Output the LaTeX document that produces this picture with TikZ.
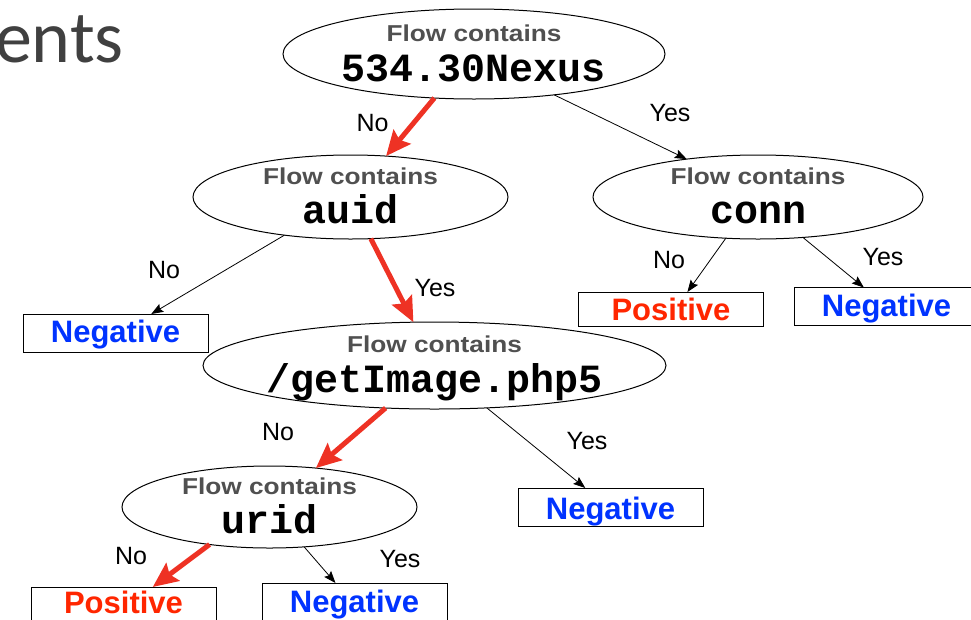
\documentclass[tikz,border=0pt]{standalone}
\usepackage{fontspec}
\setmainfont{Liberation Sans}
\newfontfamily\flowfont[FakeStretch=1.14]{Liberation Sans}
\newfontfamily\codefont{Liberation Mono}
\newfontfamily\titlefont{Carlito}
\usetikzlibrary{arrows.meta,shapes.geometric,calc}
\definecolor{arrowred}{RGB}{238,50,36}
\definecolor{posred}{RGB}{255,38,0}
\definecolor{negblue}{RGB}{0,51,255}
\definecolor{flowgray}{RGB}{80,80,80}
\definecolor{titlegray}{RGB}{64,64,64}
\tikzset{
  cond/.style={ellipse, draw, line width=1pt, inner sep=0pt, outer sep=0pt},
  flowtxt/.style={anchor=base, inner sep=0pt, text=flowgray,
    font=\flowfont\bfseries\fontsize{23}{27}\selectfont},
  codetxt/.style={anchor=base, inner sep=0pt, text=black,
    font=\codefont\bfseries\fontsize{40}{44}\selectfont},
  leaf/.style={draw, line width=1pt, inner sep=0pt, outer sep=0pt,
    minimum width=185pt, minimum height=38pt,
    font=\bfseries\fontsize{31}{35}\selectfont},
  posleaf/.style={leaf, text=posred},
  negleaf/.style={leaf, text=negblue},
  lab/.style={anchor=base, inner sep=0pt, font=\fontsize{25}{30}\selectfont},
  blk/.style={line width=0.8pt, -{Stealth[length=12pt,width=9pt,inset=2pt]}},
  redarr/.style={draw=arrowred, fill=arrowred, line width=5pt,
    -{Stealth[length=25pt,width=22pt,inset=4pt]}}
}
\begin{document}
\begin{tikzpicture}[x=1pt,y=-1pt]
\useasboundingbox (0,0) rectangle (971,619);

% title fragment
\node[anchor=base east, inner sep=0pt, text=titlegray,
  font=\titlefont\fontsize{74}{80}\selectfont] (title) at (124,62) {ents};

% decision ellipses
\node[cond, minimum width=382pt, minimum height=90pt] (e1) at (474,54) {};
\node[cond, minimum width=315pt, minimum height=84pt] (e2) at (350.5,197) {};
\node[cond, minimum width=330pt, minimum height=84pt] (e3) at (758,197) {};
\node[cond, minimum width=463pt, minimum height=87pt] (e4) at (434.5,365.5) {};
\node[cond, minimum width=295pt, minimum height=82pt] (e5) at (269.5,507) {};

\node[flowtxt] (e1a) at ($(e1)+(0,-12.5)$) {Flow contains};
\node[codetxt] (e1b) at ($(e1)+(0,27)$) {534.30Nexus};
\node[flowtxt] (e2a) at ($(e2)+(0,-13)$) {Flow contains};
\node[codetxt] (e2b) at ($(e2)+(0,26)$) {auid};
\node[flowtxt] (e3a) at ($(e3)+(0,-13)$) {Flow contains};
\node[codetxt] (e3b) at ($(e3)+(0,26)$) {conn};
\node[flowtxt] (e4a) at ($(e4)+(0,-13.5)$) {Flow contains};
\node[codetxt] (e4b) at ($(e4)+(0,27)$) {/getImage.php5};
\node[flowtxt] (e5a) at ($(e5)+(0,-13)$) {Flow contains};
\node[codetxt] (e5b) at ($(e5)+(0,26)$) {urid};

% leaves
\node[negleaf, text height=23pt, text depth=5pt] (b1) at (115.5,333) {Negative};
\node[posleaf, minimum height=34pt, text height=25pt, text depth=3pt] (b2) at (671,309) {Positive};
\node[negleaf, text height=24pt, text depth=4pt] (b3) at (886.5,306.5) {Negative};
\node[negleaf, text height=26pt, text depth=2pt] (b4) at (610.5,507) {Negative};
\node[posleaf, text height=21pt, text depth=7pt] (b5) at (123.5,606) {Positive};
\node[negleaf, text height=24pt, text depth=4pt] (b6) at (354.5,602) {Negative};

% connectors
\draw[redarr] (e1.228) -- (e2.49.8);
\draw[blk] (e1.333.2) -- (e3.152.8);
\draw[blk] (e2.210) -- (b1.28.8);
\draw[redarr] (e2.296) -- (e4.116.8);
\draw[blk] (e3.232.7) -- (b2.46.7);
\draw[blk] (e3.318.2) -- (b3.140.3);
\draw[redarr] (e4.221.1) -- (e5.40.8);
\draw[blk] (e4.321.5) -- (b4.143.3);
\draw[redarr] (e5.212.8) -- (b5.33.7);
\draw[blk] (e5.311.7) -- (b6.135.7);

% edge labels
\node[lab] (l1) at (372.5,131.7) {No};
\node[lab] (l2) at (670,121.7) {Yes};
\node[lab] (l3) at (164,278.3) {No};
\node[lab] (l4) at (435,296) {Yes};
\node[lab] (l5) at (669,268.3) {No};
\node[lab] (l6) at (883,265) {Yes};
\node[lab] (l7) at (278,440.7) {No};
\node[lab] (l8) at (587,449.3) {Yes};
\node[lab] (l9) at (131,564.3) {No};
\node[lab] (l10) at (400,567.7) {Yes};
\end{tikzpicture}
\end{document}
